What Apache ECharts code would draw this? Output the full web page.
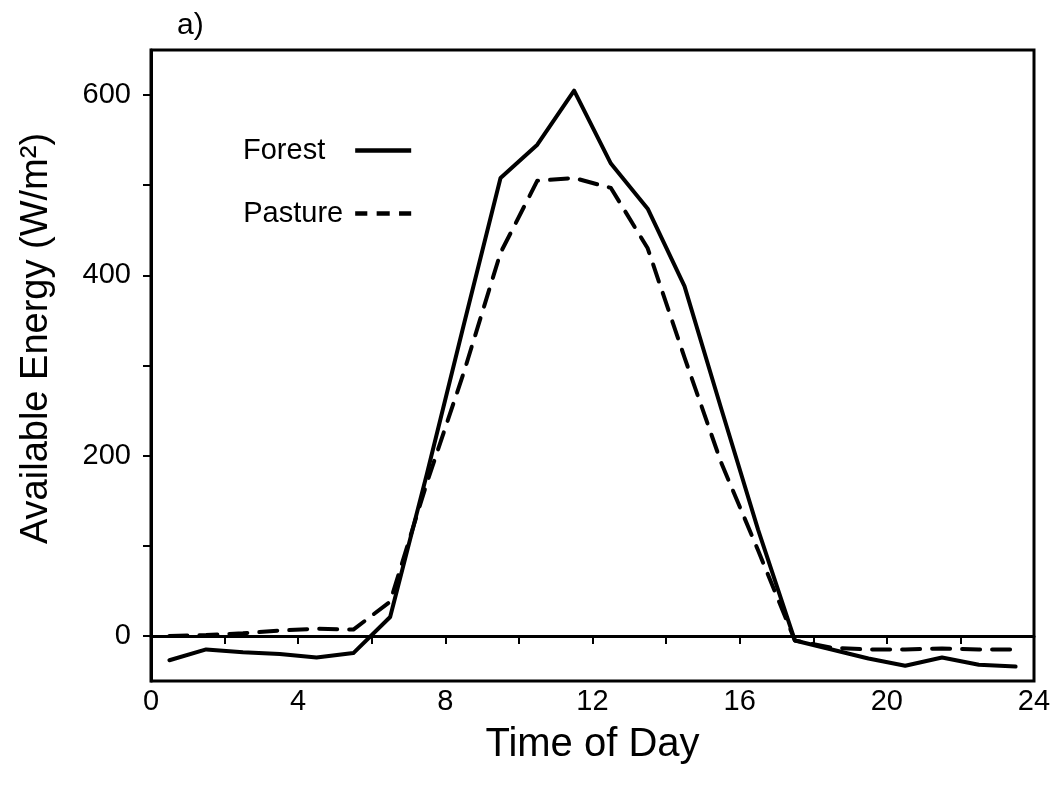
<!DOCTYPE html>
<html>
<head>
<meta charset="utf-8">
<script src="https://cdn.jsdelivr.net/npm/echarts@6/dist/echarts.min.js"></script>
<style>html,body{margin:0;padding:0;background:#fff}#c{width:1058px;height:800px}</style>
</head>
<body>
<div id="c"></div>
<script>
const hours = [0.5,1.5,2.5,3.5,4.5,5.5,6.5,7.5,8.5,9.5,10.5,11.5,12.5,13.5,14.5,15.5,16.5,17.5,18.5,19.5,20.5,21.5,22.5,23.5];
const forest = [-27,-15,-18,-20,-24,-19,21,180,345,508,545,605,524,474,388,252,118,-5,-15,-25,-33,-24,-32,-34];
const pasture = [0,1,3,6,8,7,38,170,292,425,505,508,497,430,309,192,95,-5,-13,-15,-15,-14,-15,-15];
const xLabels = [0,4,8,12,16,20,24];
const xTicks = [0,2,4,6,8,10,12,14,16,18,20,22,24];
const yLabels = [0,200,400,600];
const yTicks = [0,100,200,300,400,500,600];

const FONT = 'Liberation Sans, Arial, Helvetica, sans-serif';
const chart = echarts.init(document.getElementById('c'), null, {renderer: 'canvas'});
const pair = arr => hours.map((h, i) => [h, arr[i]]);

const solidIcon = 'path://M0,0h60v5h-60z';
const dashIcon = 'path://M0,0h13v5h-13z M23,0h14v5h-14z M47,0h13v5h-13z';

chart.setOption({
  animation: false,
  backgroundColor: '#ffffff',
  title: {
    text: 'a)', left: 172, top: 6,
    textStyle: {fontFamily: FONT, fontSize: 30, fontWeight: 'normal', color: '#000'}
  },
  legend: {
    orient: 'vertical', left: 238, top: 131, align: 'right', itemGap: 34,
    itemWidth: 56, itemHeight: 5,
    textStyle: {fontFamily: FONT, fontSize: 29, color: '#000'},
    data: [
      {name: 'Forest', icon: solidIcon, textStyle: {padding: [0, 25, 0, 0]}},
      {name: 'Pasture', icon: dashIcon, textStyle: {padding: [0, 7, 0, 0]}}
    ]
  },
  grid: {left: 151, right: 24, top: 50, bottom: 119, show: true, borderColor: '#000', borderWidth: 3, backgroundColor: 'transparent'},
  xAxis: {
    type: 'value', min: 0, max: 24,
    name: 'Time of Day', nameLocation: 'middle', nameGap: 44,
    nameTextStyle: {fontFamily: FONT, fontSize: 40, color: '#000'},
    axisLine: {show: true, lineStyle: {color: '#000', width: 3}},
    axisTick: {show: true, length: 8, lineStyle: {color: '#000', width: 2}, customValues: xTicks},
    axisLabel: {fontFamily: FONT, fontSize: 29, color: '#000', margin: 6, customValues: xLabels},
    splitLine: {show: false}
  },
  yAxis: {
    type: 'value', min: -50, max: 650,
    name: 'Available Energy (W/m²)', nameLocation: 'middle', nameGap: 95,
    nameTextStyle: {fontFamily: FONT, fontSize: 38, color: '#000', padding: [0, 0, 0, 54]},
    axisLine: {show: true, lineStyle: {color: '#000', width: 3}},
    axisTick: {show: true, length: 8, lineStyle: {color: '#000', width: 2}, customValues: yTicks},
    axisLabel: {fontFamily: FONT, fontSize: 29, color: '#000', margin: 20, customValues: yLabels},
    splitLine: {show: false}
  },
  series: [
    {
      name: 'Forest', type: 'line', data: pair(forest), showSymbol: false, symbol: 'none',
      lineStyle: {color: '#000', width: 4, cap: 'round', join: 'round'},
      itemStyle: {color: '#000'},
      markLine: {
        silent: true, symbol: 'none', label: {show: false},
        lineStyle: {color: '#000', width: 1.5, type: 'solid'},
        data: [{yAxis: 0}]
      },
      z: 3
    },
    {
      name: 'Pasture', type: 'line', data: pair(pasture), showSymbol: false, symbol: 'none',
      lineStyle: {color: '#000', width: 4, type: [18, 12], cap: 'round', join: 'round'},
      itemStyle: {color: '#000'},
      z: 3
    }
  ]
});
</script>
</body>
</html>
